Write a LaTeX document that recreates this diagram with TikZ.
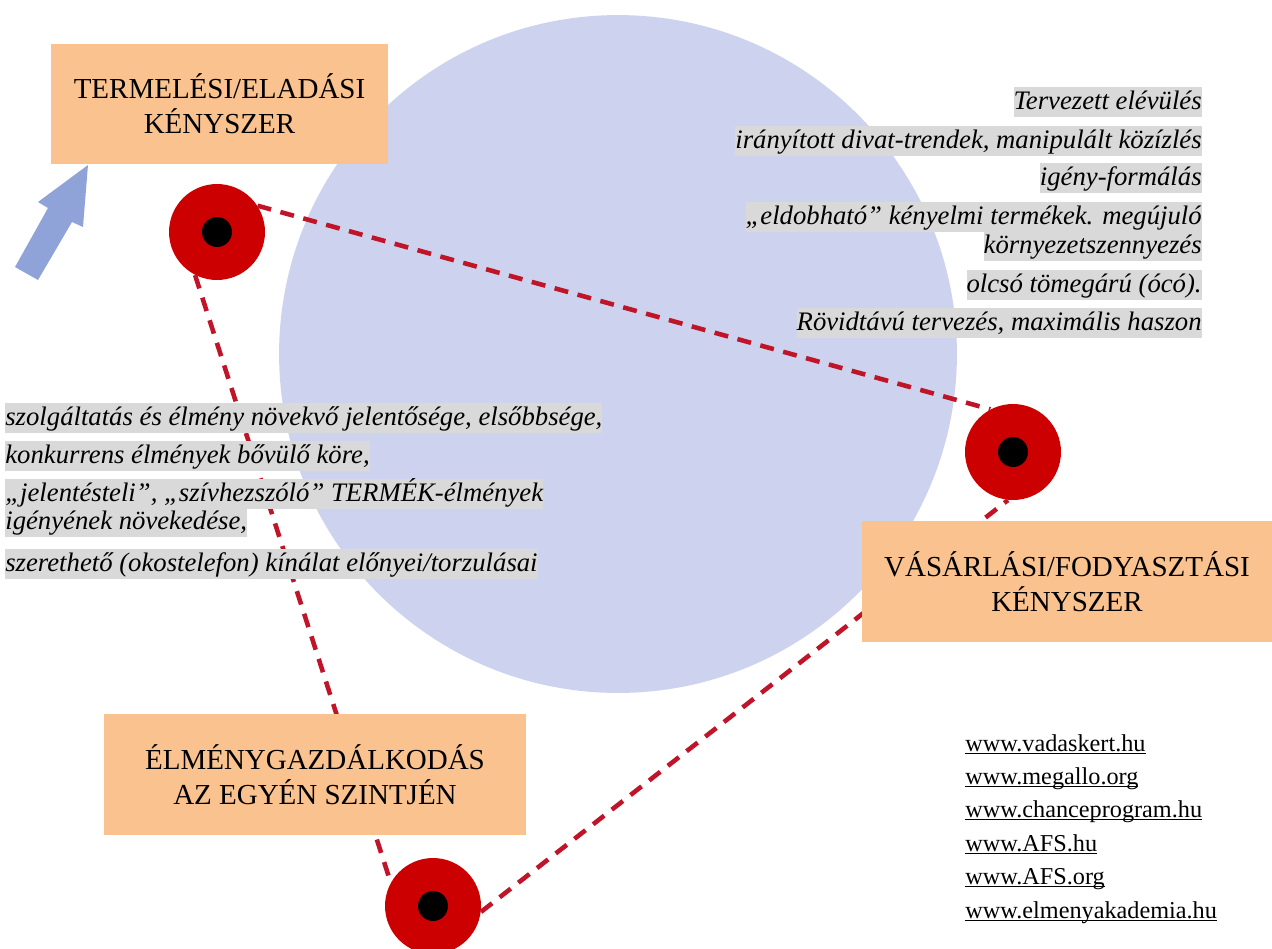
\documentclass[tikz,border=0pt]{standalone}
\usepackage{fontspec}
\setmainfont{Liberation Serif}

\definecolor{discblue}{RGB}{205,211,238}
\definecolor{boxpeach}{RGB}{249,194,143}
\definecolor{dotred}{RGB}{204,0,0}
\definecolor{dashred}{RGB}{192,20,40}
\definecolor{marker}{RGB}{217,217,217}
\definecolor{arrowblue}{RGB}{143,163,216}

\tikzstyle{dot}=[circle,fill=dotred,minimum size=1.92cm,inner sep=0pt]
\tikzstyle{hole}=[circle,fill=black,minimum size=0.6cm,inner sep=0pt]
\tikzstyle{link} = [draw=dashred,line width=2.6pt,dash pattern=on 8pt off 5.5pt]
\tikzstyle{label box}=[fill=boxpeach,align=center,inner sep=0pt,font=\fontsize{16.5}{20}\selectfont]
\tikzstyle{note}=[fill=marker,inner sep=0pt,text height=12.5pt,text depth=4.5pt,font=\fontsize{15.2}{17}\selectfont\itshape]
\tikzstyle{web}=[inner sep=0pt,anchor=west,text height=10pt,text depth=3pt,font=\fontsize{13.8}{16}\selectfont]

\begin{document}
\begin{tikzpicture}[x=0.02cm,y=-0.02cm]
\useasboundingbox (0,0) rectangle (1272,948);
% background disc
\fill[discblue] (618,354) circle (6.78cm);
% blue arrow
\fill[arrowblue] (88,165) -- (38,202) -- (48,208) -- (15,267) -- (38,280)
  -- (72,222) -- (83,227) -- cycle;
% red dots
\foreach \pos/\name in {{(217,232)/d1}, {(1013,452)/d2}, {(433,906)/d3}}{
  \node[dot] (\name) at \pos {};
  \node[hole] (\name h) at \pos {};
}
\foreach \source/\dest in {d1.33/d2.118, d1.-117/d3.151, d3.-7/d2.-96}{
  \path[link] (\source) -- (\dest);
}
% boxes
\node[label box,minimum width=6.74cm,minimum height=2.4cm] (prod) at (219.5,104)
  {TERMELÉSI/ELADÁSI\\KÉNYSZER};
\node[label box,minimum width=8.2cm,minimum height=2.42cm] (buy) at (1067,581.5)
  {VÁSÁRLÁSI/FODYASZTÁSI\\KÉNYSZER};
\node[label box,minimum width=8.44cm,minimum height=2.42cm] (exp) at (315,774.5)
  {ÉLMÉNYGAZDÁLKODÁS\\AZ EGYÉN SZINTJÉN};
% notes
\foreach \y/\txt in {102/Tervezett elévülés,
                     141/{irányított divat-trendek, manipulált közízlés},
                     178/igény-formálás,
                     217/{„eldobható” kényelmi termékek. megújuló},
                     246/környezetszennyezés,
                     285/{olcsó tömegárú (ócó).},
                     323/{Rövidtávú tervezés, maximális haszon}}{
  \node[note,anchor=east] (r\y) at (1202,\y) {\txt};
}
\foreach \y/\txt in {418/{szolgáltatás és élmény növekvő jelentősége, elsőbbsége,},
                     456/{konkurrens élmények bővülő köre,},
                     494/{„jelentésteli”, „szívhezszóló” TERMÉK-élmények},
                     522/{igényének növekedése,},
                     564/{szerethető (okostelefon) kínálat előnyei/torzulásai}}{
  \node[note,anchor=west] (l\y) at (5,\y) {\txt};
}
% links
\foreach \y/\site in {745/www.vadaskert.hu, 778/www.megallo.org,
                      811/www.chanceprogram.hu, 845/www.AFS.hu,
                      878/www.AFS.org, 912/www.elmenyakademia.hu}{
  \node[web] (w\y) at (965,\y) {\underline{\smash{\site}}};
}
\end{tikzpicture}
\end{document}
